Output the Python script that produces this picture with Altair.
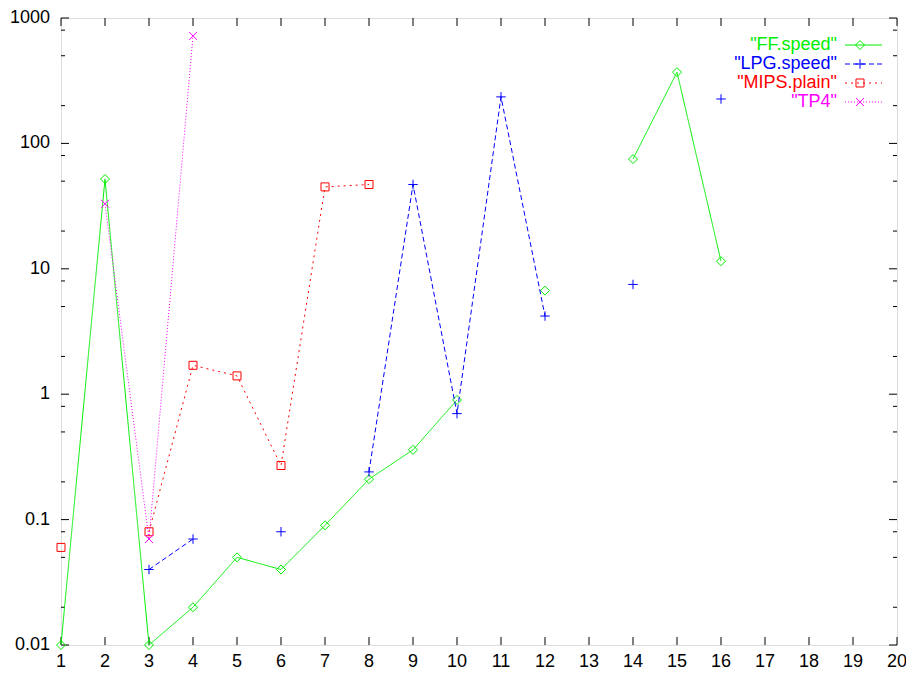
import altair as alt
import pandas as pd

# ---- data ----
x_vals = list(range(1, 17))
ff_speed = [0.01, 52, 0.01, 0.02, 0.05, 0.04, 0.09, 0.21, 0.36, 0.9, None, 6.7, None, 75, 370, 11.5]
lpg_speed = [None, None, 0.04, 0.07, None, 0.08, None, 0.24, 47, 0.7, 235, 4.2, None, 7.5, None, 226]
mips_plain = [0.06, None, 0.08, 1.7, 1.4, 0.27, 45, 47, None, None, None, None, None, None, None, None]
tp4 = [None, 33, 0.07, 720, None, None, None, None, None, None, None, None, None, None, None, None]

series_names = ['"FF.speed"', '"LPG.speed"', '"MIPS.plain"', '"TP4"']
series_values = [ff_speed, lpg_speed, mips_plain, tp4]
series_colors = ["#00ee00", "#0000ff", "#ff0000", "#ff00ff"]
series_dash = [[1, 0], [5, 3], [2, 4], [1, 2]]
PLUS = "M-1,0L1,0M0,-1L0,1"
XMARK = "M-1,-1L1,1M-1,1L1,-1"
series_shapes = ["diamond", PLUS, "square", XMARK]
series_sizes = [81, 90, 64, 64]

x_ticks = list(range(1, 21))
x_tick_labels = [str(v) for v in x_ticks]
y_major = [0.01, 0.1, 1, 10, 100, 1000]
y_major_labels = ["0.01", "0.1", "1", "10", "100", "1000"]
y_minor = [0.02, 0.05, 0.08, 0.2, 0.5, 0.8, 2, 5, 8, 20, 50, 80, 200, 500, 800]

W, H = 836, 627
FONT = "Liberation Sans"

xscale = alt.Scale(domain=[1, 20], nice=False, zero=False)
yscale = alt.Scale(type="log", domain=[0.01, 1000], nice=False)

layers = []

# tick labels
xt = pd.DataFrame({"t": x_ticks, "lab": x_tick_labels})
ymaj = pd.DataFrame({"v": y_major, "lab": y_major_labels})
ymin = pd.DataFrame({"v": y_minor})

layers.append(alt.Chart(xt).mark_text(align="center", baseline="top", font=FONT,
                                      fontSize=18, color="black").encode(
    x=alt.X("t:Q", scale=xscale, axis=None), y=alt.value(H + 8), text="lab:N"))
layers.append(alt.Chart(ymaj).mark_text(align="right", baseline="middle", font=FONT,
                                        fontSize=18, color="black").encode(
    y=alt.Y("v:Q", scale=yscale, axis=None), x=alt.value(-11), text="lab:N"))

# inward ticks
tick_style = dict(color="black", strokeWidth=1)
layers.append(alt.Chart(xt).mark_rule(**tick_style).encode(
    x=alt.X("t:Q", scale=xscale, axis=None), y=alt.value(H), y2=alt.value(H - 8)))
layers.append(alt.Chart(xt).mark_rule(**tick_style).encode(
    x=alt.X("t:Q", scale=xscale, axis=None), y=alt.value(0), y2=alt.value(8)))
layers.append(alt.Chart(ymaj).mark_rule(**tick_style).encode(
    y=alt.Y("v:Q", scale=yscale, axis=None), x=alt.value(0), x2=alt.value(8)))
layers.append(alt.Chart(ymaj).mark_rule(**tick_style).encode(
    y=alt.Y("v:Q", scale=yscale, axis=None), x=alt.value(W), x2=alt.value(W - 8)))
layers.append(alt.Chart(ymin).mark_rule(**tick_style).encode(
    y=alt.Y("v:Q", scale=yscale, axis=None), x=alt.value(0), x2=alt.value(4)))
layers.append(alt.Chart(ymin).mark_rule(**tick_style).encode(
    y=alt.Y("v:Q", scale=yscale, axis=None), x=alt.value(W), x2=alt.value(W - 4)))

# series
for name, vals, col, dash, shp, sz in zip(series_names, series_values, series_colors,
                                          series_dash, series_shapes, series_sizes):
    df = pd.DataFrame({"x": x_vals, "y": vals})
    line = alt.Chart(df).mark_line(color=col, strokeWidth=1, strokeDash=dash,
                                   invalid="break-paths-show-domains").encode(
        x=alt.X("x:Q", scale=xscale, axis=None),
        y=alt.Y("y:Q", scale=yscale, axis=None),
    )
    pts = alt.Chart(df).transform_filter("isValid(datum.y)").mark_point(
        shape=shp, size=sz, filled=False, color=col, strokeWidth=1, opacity=1).encode(
        x=alt.X("x:Q", scale=xscale, axis=None),
        y=alt.Y("y:Q", scale=yscale, axis=None),
    )
    layers += [line, pts]

# legend (gnuplot style, top right inside)
leg_text_x = 776
leg_line_x1, leg_line_x2 = 784, 821
leg_mark_x = 799
leg_y0, leg_dy = 27, 19
for i, (name, col, dash, shp, sz) in enumerate(zip(series_names, series_colors, series_dash,
                                                     series_shapes, series_sizes)):
    yy = leg_y0 + i * leg_dy
    one = pd.DataFrame({"label": [name]})
    layers.append(alt.Chart(one).mark_text(align="right", baseline="middle", font=FONT,
                                           fontSize=18, color=col).encode(
        text="label:N", x=alt.value(leg_text_x), y=alt.value(yy)))
    layers.append(alt.Chart(one).mark_rule(color=col, strokeWidth=1, strokeDash=dash).encode(
        x=alt.value(leg_line_x1), x2=alt.value(leg_line_x2), y=alt.value(yy)))
    layers.append(alt.Chart(one).mark_point(shape=shp, size=sz, filled=False, color=col,
                                            strokeWidth=1, opacity=1).encode(
        x=alt.value(leg_mark_x), y=alt.value(yy)))

chart = alt.layer(*layers).properties(
    width=W, height=H,
    autosize=alt.AutoSizeParams(type="none"),
    padding={"left": 53, "top": 10, "right": 9, "bottom": 28},
).configure_view(stroke="black", strokeWidth=1).configure(background="white")

chart.save("out.html", embed_options={"renderer": "svg", "actions": False})
